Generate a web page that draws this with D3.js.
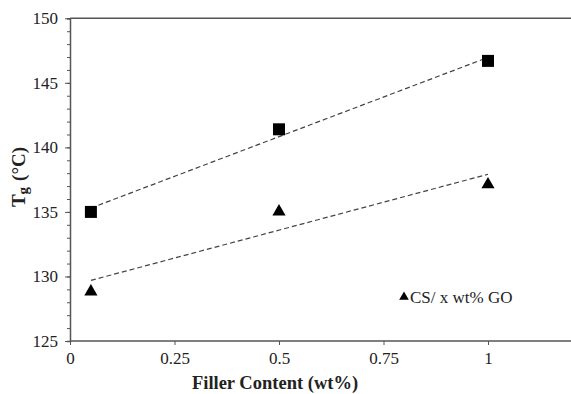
<!DOCTYPE html>
<html>
<head>
<meta charset="utf-8">
<script src="https://cdn.jsdelivr.net/npm/d3@7"></script>
<style>
  body { margin: 0; background: #fff; }
  svg text { font-family: "Liberation Serif", "Times New Roman", serif !important; }
</style>
</head>
<body>
<div id="chart"></div>
<script>
// chart data
var fillerContent = [0.05, 0.5, 1];
var tgSquare = [135.0, 141.4, 146.7];
var tgTriangle = [128.9, 135.1, 137.2];
var xTicks = [0, 0.25, 0.5, 0.75, 1];
var xTickLabels = ["0", "0.25", "0.5", "0.75", "1"];
var yTicks = [125, 130, 135, 140, 145, 150];
var legendLabel = "CS/ x wt% GO";

var width = 571, height = 394;
var svg = d3.select("#chart").append("svg")
  .attr("width", width)
  .attr("height", height);

var x = d3.scaleLinear().domain([0, 1.2]).range([70, 571.6]);
var y = d3.scaleLinear().domain([125, 150]).range([341, 18.3]);

// least squares fit for the trend lines
function fit(xs, ys) {
  var mx = d3.mean(xs), my = d3.mean(ys);
  var sxy = d3.sum(xs, function(v, i) { return (v - mx) * (ys[i] - my); });
  var sxx = d3.sum(xs, function(v) { return (v - mx) * (v - mx); });
  var b = sxy / sxx;
  return function(v) { return my + b * (v - mx); };
}

var axisColor = "#555";

// top frame line
svg.append("line")
  .attr("x1", x(0)).attr("x2", width)
  .attr("y1", y(150)).attr("y2", y(150))
  .attr("stroke", axisColor).attr("stroke-width", 1.5);

// y axis
var yAxis = svg.append("g").attr("transform", "translate(" + x(0) + ",0)");
yAxis.call(d3.axisLeft(y).tickValues(d3.range(125, 151, 1)).tickSize(3).tickFormat(""));
yAxis.call(function(g) {
  g.select(".domain").attr("stroke", axisColor).attr("stroke-width", 1.5);
  g.selectAll(".tick line").attr("stroke", axisColor);
});
var yMajor = svg.append("g").attr("transform", "translate(" + x(0) + ",0)")
  .call(d3.axisLeft(y).tickValues(yTicks).tickSize(5).tickPadding(7));
yMajor.select(".domain").remove();
yMajor.selectAll(".tick line").attr("stroke", axisColor);
yMajor.selectAll("text").style("font-size", "17px").attr("fill", "#222");

// x axis
var xAxis = svg.append("g").attr("transform", "translate(0," + y(125) + ")")
  .call(d3.axisBottom(x).tickValues(xTicks).tickSize(4).tickPadding(7)
    .tickFormat(function(d, i) { return xTickLabels[i]; }));
xAxis.select(".domain").attr("d", "M" + x(0) + ",0H" + width)
  .attr("stroke", axisColor).attr("stroke-width", 1.5);
xAxis.selectAll(".tick line").attr("stroke", axisColor);
xAxis.selectAll("text").style("font-size", "17px").attr("fill", "#222");

// trend lines
[tgSquare, tgTriangle].forEach(function(ys) {
  var f = fit(fillerContent, ys);
  svg.append("line")
    .attr("x1", x(fillerContent[0])).attr("y1", y(f(fillerContent[0])))
    .attr("x2", x(fillerContent[2])).attr("y2", y(f(fillerContent[2])))
    .attr("stroke", "#444").attr("stroke-width", 1.2)
    .attr("stroke-dasharray", "5,3");
});

// markers
svg.append("g").selectAll("rect")
  .data(fillerContent)
  .enter().append("rect")
  .attr("x", function(d) { return x(d) - 6; })
  .attr("y", function(d, i) { return y(tgSquare[i]) - 6; })
  .attr("width", 12).attr("height", 12)
  .attr("fill", "#000");

var tri = d3.symbol().type(d3.symbolTriangle).size(75);
svg.append("g").selectAll("path")
  .data(fillerContent)
  .enter().append("path")
  .attr("d", tri)
  .attr("transform", function(d, i) { return "translate(" + x(d) + "," + (y(tgTriangle[i]) + 1) + ")"; })
  .attr("fill", "#000");

// legend
svg.append("path")
  .attr("d", d3.symbol().type(d3.symbolTriangle).size(40))
  .attr("transform", "translate(404,297)")
  .attr("fill", "#000");
svg.append("text")
  .attr("x", 410).attr("y", 303)
  .style("font-size", "17px").attr("fill", "#222")
  .text(legendLabel);

// axis titles
svg.append("text")
  .attr("x", 275).attr("y", 389)
  .attr("text-anchor", "middle")
  .style("font-size", "18.5px").attr("font-weight", "bold").attr("fill", "#222")
  .text("Filler Content (wt%)");

var yt = svg.append("text")
  .attr("transform", "translate(25,177) rotate(-90)")
  .attr("text-anchor", "middle")
  .style("font-size", "19px").attr("font-weight", "bold").attr("fill", "#222");
yt.append("tspan").text("T");
yt.append("tspan").style("font-size", "15px").attr("dy", 3).text("g");
yt.append("tspan").attr("dy", -3).attr("dx", 6).text("(°C)");
</script>
</body>
</html>
